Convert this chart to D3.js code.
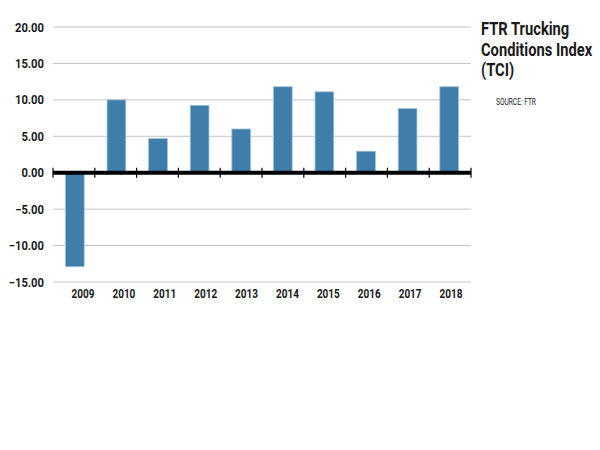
<!DOCTYPE html>
<html>
<head>
<meta charset="utf-8">
<script src="https://cdn.jsdelivr.net/npm/d3@7"></script>
<style>
  body { margin: 0; background: #fff; }
  text { font-family: "Roboto", "Liberation Sans", sans-serif; font-weight: bold; fill: #1a1a1a; }
</style>
</head>
<body>
<div id="chart"></div>
<script>
// chart values
var years = ["2009", "2010", "2011", "2012", "2013", "2014", "2015", "2016", "2017", "2018"];
var tci = [-12.9, 10.0, 4.7, 9.25, 6.0, 11.8, 11.1, 2.95, 8.8, 11.8];
var yTicks = [20, 15, 10, 5, 0, -5, -10, -15];
var titleLines = ["FTR Trucking", "Conditions Index", "(TCI)"];

var width = 600, height = 450;

var svg = d3.select("#chart")
    .append("svg")
    .attr("width", width)
    .attr("height", height);

var x = d3.scaleBand()
    .domain(years)
    .range([53, 471])
    .paddingInner(0.55)
    .paddingOuter(0.3);

// year labels sit a bit right of the bars in the original
var xLab = d3.scalePoint()
    .domain(years)
    .range([83, 451]);

var y = d3.scaleLinear()
    .domain([-15, 20])
    .range([282, 27]);

// condensed look: squeeze text horizontally
function squeeze(sx) {
    return function(sel) {
        sel.attr("transform", function() {
            var t = d3.select(this);
            return "translate(" + t.attr("data-x") + "," + t.attr("data-y") + ") scale(" + sx + ",1)";
        });
    };
}

// grid
svg.selectAll(".grid")
    .data(yTicks.filter(function(d) { return d !== 0; }))
    .enter()
    .append("line")
    .attr("class", "grid")
    .attr("x1", 53)
    .attr("x2", 471)
    .attr("y1", function(d) { return y(d); })
    .attr("y2", function(d) { return y(d); })
    .attr("stroke", "#c4c4c4")
    .attr("stroke-width", 1);

// y labels
svg.selectAll(".ylab")
    .data(yTicks)
    .enter()
    .append("text")
    .attr("class", "ylab")
    .attr("data-x", 44)
    .attr("data-y", function(d) { return y(d) + 4.5; })
    .attr("text-anchor", "end")
    .style("font-size", "12.5px")
    .text(function(d) { return d3.format(".2f")(d); })
    .call(squeeze(0.9));

// bars
svg.selectAll(".bar")
    .data(tci)
    .enter()
    .append("rect")
    .attr("class", "bar")
    .attr("x", function(d, i) { return x(years[i]); })
    .attr("width", x.bandwidth())
    .attr("y", function(d) { return y(Math.max(0, d)); })
    .attr("height", function(d) { return Math.abs(y(d) - y(0)); })
    .attr("fill", "#3f7dab")
    .attr("stroke", "#9fc0da")
    .attr("stroke-width", 0.8);

// zero axis
svg.append("line")
    .attr("x1", 53)
    .attr("x2", 471)
    .attr("y1", y(0))
    .attr("y2", y(0))
    .attr("stroke", "#000")
    .attr("stroke-width", 4);

var tickPos = d3.range(years.length + 1).map(function(i) { return 53 + i * 418 / years.length; });
svg.selectAll(".tick")
    .data(tickPos)
    .enter()
    .append("line")
    .attr("class", "tick")
    .attr("x1", function(d) { return d; })
    .attr("x2", function(d) { return d; })
    .attr("y1", y(0) - 5)
    .attr("y2", y(0) + 5)
    .attr("stroke", "#000")
    .attr("stroke-width", 1.2);

// x labels
svg.selectAll(".xlab")
    .data(years)
    .enter()
    .append("text")
    .attr("class", "xlab")
    .attr("data-x", function(d) { return xLab(d); })
    .attr("data-y", 298)
    .attr("text-anchor", "middle")
    .style("font-size", "12.5px")
    .text(function(d) { return d; })
    .call(squeeze(0.8));

// title
svg.selectAll(".title")
    .data(titleLines)
    .enter()
    .append("text")
    .attr("class", "title")
    .attr("data-x", 481)
    .attr("data-y", function(d, i) { return 35 + i * 20.5; })
    .style("font-size", "17.5px")
    .text(function(d) { return d; })
    .call(squeeze(0.84));

svg.append("text")
    .attr("data-x", 496)
    .attr("data-y", 105)
    .style("font-size", "8.5px")
    .style("font-weight", "normal")
    .text("SOURCE: FTR")
    .call(squeeze(0.78));
</script>
</body>
</html>
